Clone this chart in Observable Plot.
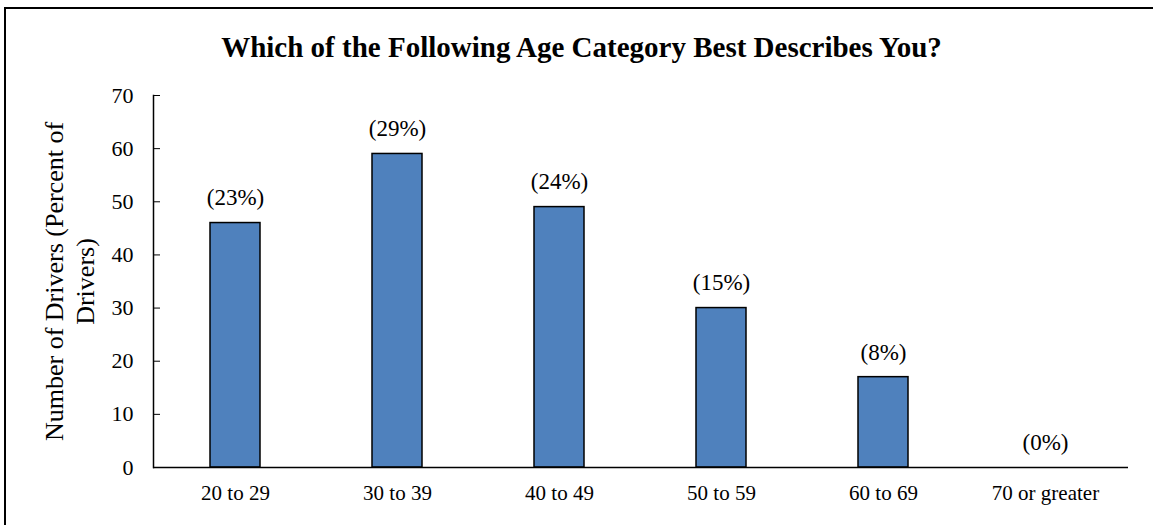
<!DOCTYPE html>
<html>
<head>
<meta charset="utf-8">
<script src="https://cdn.jsdelivr.net/npm/d3@7"></script>
<script src="https://cdn.jsdelivr.net/npm/@observablehq/plot@0.6"></script>
<style>
  html, body { margin: 0; padding: 0; background: #fff; overflow: hidden; }
  body { width: 1153px; height: 525px; position: relative; font-family: "Liberation Serif", "Times New Roman", serif; }
  #frame { position: absolute; left: 4px; top: 7px; width: 1170px; height: 540px; border: 2px solid #000; box-sizing: border-box; }
  #title { position: absolute; left: 0; top: 29px; width: 1163px; text-align: center; font-weight: bold; font-size: 29px; line-height: 36px; color: #000; }
  #chart { position: absolute; left: 0; top: 0; }
</style>
</head>
<body>
<div id="frame"></div>
<div id="title">Which of the Following Age Category Best Describes You?</div>
<div id="chart"></div>
<script>
// Age brackets, driver counts and their share of all respondents
const ageGroups = ["20 to 29", "30 to 39", "40 to 49", "50 to 59", "60 to 69", "70 or greater"];
const driverCounts = [46, 59, 49, 30, 17, 0];
const shareLabels = ["(23%)", "(29%)", "(24%)", "(15%)", "(8%)", "(0%)"];
const yTicks = [0, 10, 20, 30, 40, 50, 60, 70];
const yLabel = "Number of Drivers (Percent of\nDrivers)";

const rows = ageGroups.map((g, i) => ({group: g, count: driverCounts[i], label: shareLabels[i]}));

const chart = Plot.plot({
  width: 1153,
  height: 525,
  marginLeft: 153,
  marginRight: 25,
  marginTop: 95,
  marginBottom: 58,
  style: {fontFamily: "'Liberation Serif', 'Times New Roman', serif", fontSize: "21px", color: "#000", background: "transparent"},
  x: {domain: ageGroups, paddingInner: 0.69, paddingOuter: 0.345, label: null},
  y: {domain: [0, 70], ticks: yTicks, label: null},
  marks: [
    Plot.barY(rows, {x: "group", y: "count", fill: "#4F81BD", stroke: "#000", strokeWidth: 1.5}),
    Plot.text(rows, {x: "group", y: "count", text: "label", dy: -25, fontSize: 23, fill: "#000"}),
    Plot.axisX({tickSize: 0, tickPadding: 18, fontSize: 21, label: null}),
    Plot.axisY({ticks: yTicks, anchor: "left", tickSize: -7, tickPadding: 27, fontSize: 22, label: null}),
    Plot.frame({anchor: "left", stroke: "#000", strokeWidth: 1.5}),
    Plot.ruleY([0], {stroke: "#000", strokeWidth: 1.5}),
    Plot.text([yLabel], {frameAnchor: "left", textAnchor: "middle", lineAnchor: "middle", rotate: -90, dx: -85, fontSize: 26, fill: "#000", lineHeight: 1.18})
  ]
});
document.getElementById("chart").appendChild(chart);
</script>
</body>
</html>
